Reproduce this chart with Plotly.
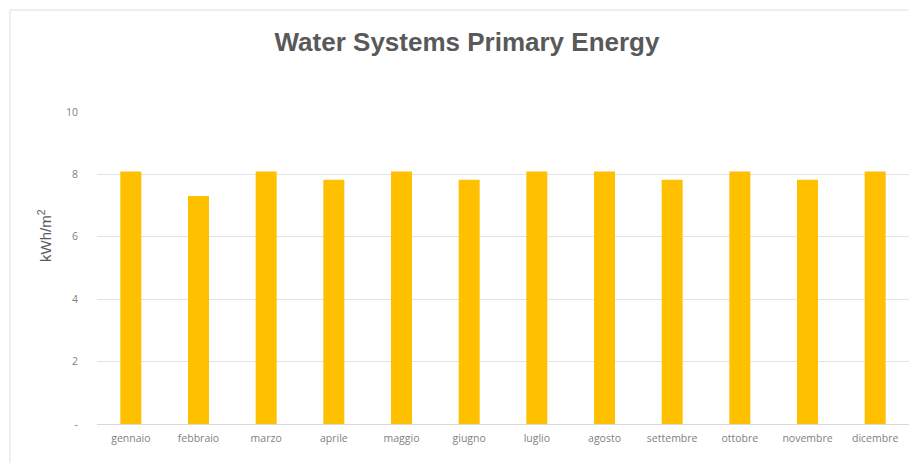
import plotly.graph_objects as go

# Monthly primary energy for water systems (kWh/m²)
months = ["gennaio", "febbraio", "marzo", "aprile", "maggio", "giugno",
          "luglio", "agosto", "settembre", "ottobre", "novembre", "dicembre"]
energy = [8.09, 7.31, 8.09, 7.83, 8.09, 7.83, 8.09, 8.09, 7.83, 8.09, 7.83, 8.09]

y_tick_vals = [0, 2, 4, 6, 8, 10]
y_tick_text = ["-", "2", "4", "6", "8", "10"]

W, H = 909, 463
L, R, T, B = 97, 0, 112, 39
plot_w = W - L - R
plot_h = H - T - B

fig = go.Figure(go.Bar(
    x=months, y=energy,
    marker=dict(color="#FFC000", line=dict(width=0)),
    hoverinfo="x+y",
))

fig.update_layout(
    width=W, height=H,
    margin=dict(l=L, r=R, t=T, b=B),
    paper_bgcolor="white", plot_bgcolor="white",
    bargap=0.69,
    showlegend=False,
    title=dict(
        text="<b>Water Systems Primary Energy</b>",
        font=dict(family="Liberation Sans, Arial, sans-serif", size=26, color="#595959"),
        x=(467 - L) / plot_w, xref="paper", xanchor="center",
        y=1 - 42 / H, yref="container", yanchor="middle",
    ),
    xaxis=dict(
        showgrid=False, showline=False, zeroline=False,
        ticks="", tickfont=dict(family="Open Sans, sans-serif", size=10.5, color="#7f7f7f"),
        ticklabelstandoff=6,
    ),
    yaxis=dict(
        range=[0, 10], tickvals=y_tick_vals, ticktext=y_tick_text,
        showgrid=True, gridcolor="#e3e3e3", gridwidth=1,
        zeroline=True, zerolinecolor="#d9d9d9", zerolinewidth=1,
        showline=False, ticks="",
        tickfont=dict(family="Open Sans, sans-serif", size=10.5, color="#7f7f7f"),
        ticklabelstandoff=18,
    ),
    annotations=[dict(
        text="kWh/m<sup>2</sup>", textangle=-90,
        font=dict(family="Liberation Sans, Arial, sans-serif", size=15, color="#595959"),
        x=(45 - L) / plot_w, xref="paper", xanchor="center",
        y=1 - (235 - T) / plot_h, yref="paper", yanchor="middle", showarrow=False,
    )],
    shapes=[dict(
        type="rect", xref="paper", yref="paper",
        x0=(10 - L) / plot_w, x1=(W + 5 - L) / plot_w,
        y0=-(B + 5) / plot_h, y1=1 + (T - 10) / plot_h,
        line=dict(color="#e0e0e0", width=1), fillcolor="rgba(0,0,0,0)",
        layer="below",
    )],
)

fig.write_html("out.html")
